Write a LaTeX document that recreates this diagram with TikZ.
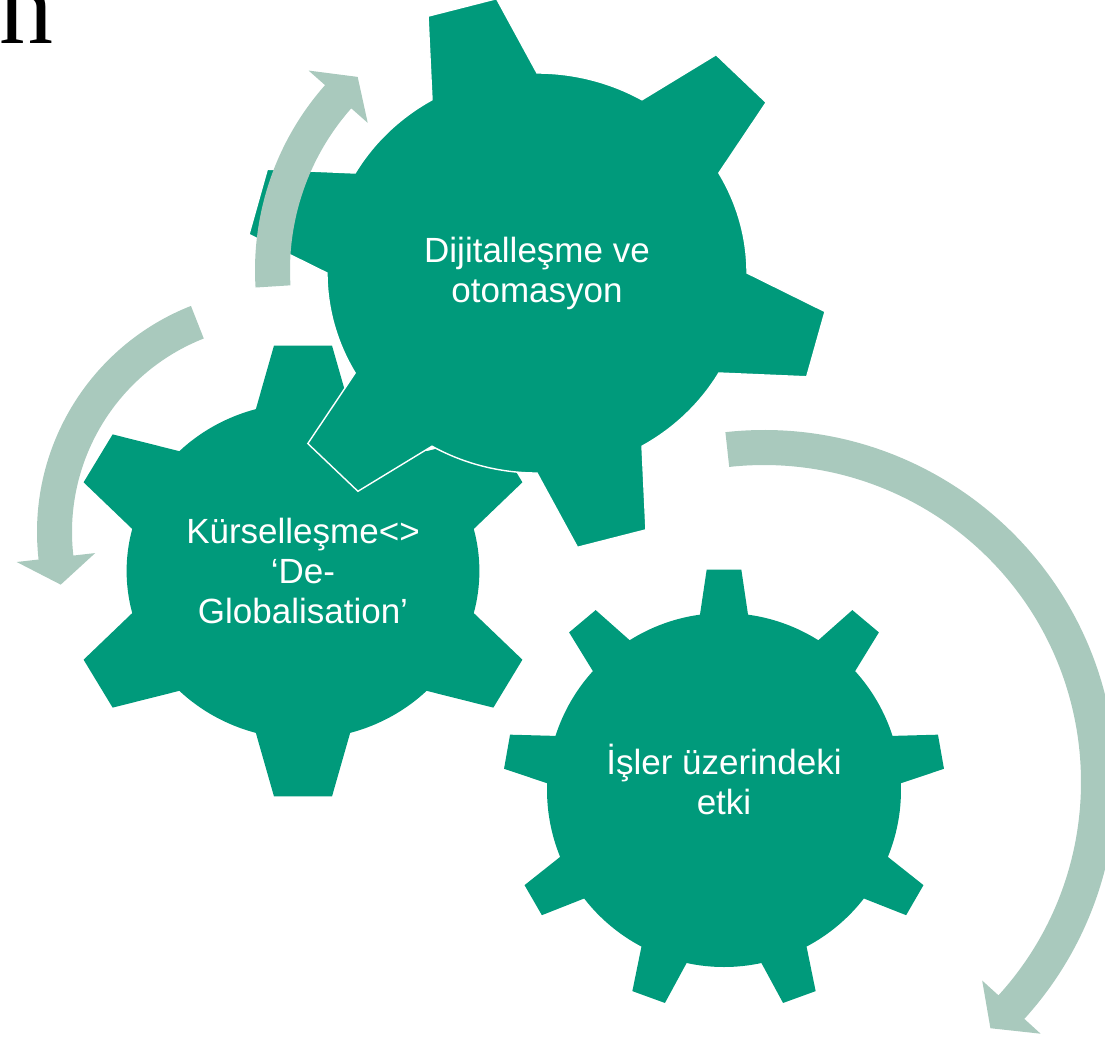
\documentclass[tikz,border=0pt]{standalone}
\usepackage{fontspec}
\newfontfamily\gearfont{Liberation Sans}
\newfontfamily\titlefont{Liberation Serif}
\definecolor{gearcol}{HTML}{009A7B}
\definecolor{arrowcol}{HTML}{A9C9BD}
\tikzset{
  gear/.style={fill=gearcol},
  cycarrow/.style={fill=arrowcol},
  gearlabel/.style={text=white, align=center, inner sep=0pt, font=\gearfont\fontsize{35}{40}\selectfont}
}
% #1 centre, #2 inner radius, #3 outer radius, #4 start angle, #5 end angle, #6 tip angle
\newcommand{\roundarrow}[6]{%
  \fill[cycarrow, shift={#1}] (#4:#3) arc[start angle=#4, end angle=#5, radius=#3]
    -- ({#5}:{#3+22}) -- ({#6}:{(#2+#3)/2}) -- ({#5}:{#2-22}) -- ({#5}:#2)
    arc[start angle=#5, end angle=#4, radius=#2] -- cycle;}
\begin{document}
\begin{tikzpicture}[x=1pt, y=-1pt]
\useasboundingbox (0,0) rectangle (1105,1039);
\clip (0,0) rectangle (1105,1039);
\node[anchor=base west, inner sep=0pt, font=\titlefont\fontsize{108}{108}\selectfont] (title) at (-1,43) {n};
% left gear
\begin{scope}[shift={(303,571)}, xscale=1.05]
  \fill[gear] (254.5:168) \foreach \a in {270,330,...,570} {
    -- ({\a-15.5}:168) -- ({\a-7}:227) -- ({\a+7}:227) -- ({\a+15.5}:168)
    arc[start angle=\a+15.5, end angle=\a+44.5, radius=168]} -- cycle;
\end{scope}
% top gear, white rim over the left one
\begin{scope}[shift={(537,273)}, xscale=1.05]
  \filldraw[gear, draw=white, line width=1.4pt] (0:200) \foreach \a in {15,75,...,315} {
    -- ({\a-15}:200) -- ({\a-7}:277) -- ({\a+7}:277) -- ({\a+15}:200)
    arc[start angle=\a+15, end angle=\a+45, radius=200]} -- cycle;
\end{scope}
% lower gear
\begin{scope}[shift={(724,790)}]
  \fill[gear] (262.2:177) \foreach \a in {270,310,...,590} {
    -- ({\a-7.8}:177) -- ({\a-4.5}:221) -- ({\a+4.5}:221) -- ({\a+7.8}:177)
    arc[start angle=\a+7.8, end angle=\a+32.2, radius=177]} -- cycle;
\end{scope}
\node[gearlabel] (dijital) at (537,273) {Dijitalleşme ve\\otomasyon};
\node[gearlabel] (kuresel) at (303,570.5) {Kürselleşme<>\\‘De-\\Globalisation’};
\node[gearlabel] (isler) at (724,779.5) {İşler üzerindeki\\etki};
% arrows
\roundarrow{(764,782)}{317}{352}{-96.3}{42.3}{47.4}
\roundarrow{(534,270)}{244}{279}{176.4}{221.5}{227.6}
\roundarrow{(280,532)}{208}{243}{248.5}{173.5}{166.5}
\end{tikzpicture}
\end{document}
